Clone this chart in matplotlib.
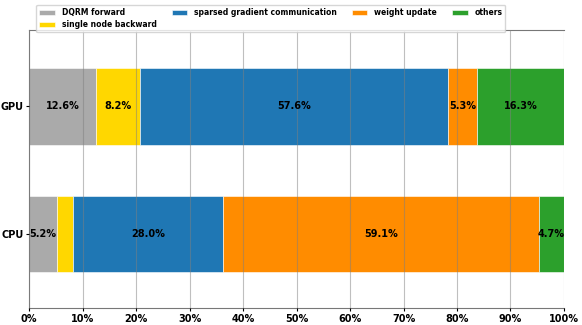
import numpy as np
import matplotlib.pyplot as plt

devices = ['CPU', 'GPU']
stages = ['DQRM forward', 'single node backward', 'sparsed gradient communication',
          'weight update', 'others']
colors = ['#aaaaaa', '#ffd700', '#1f77b4', '#ff8c00', '#2ca02c']

# percentages per stage, order: CPU, GPU
dqrm_forward = [5.2, 12.6]
node_backward = [3.0, 8.2]
grad_comm = [28.0, 57.6]
weight_update = [59.1, 5.3]
others = [4.7, 16.3]
values = [dqrm_forward, node_backward, grad_comm, weight_update, others]

plt.rcParams['font.weight'] = 'bold'
fig = plt.figure(figsize=(5.82, 3.25), dpi=100)
ax = fig.add_axes([0.050, 0.052, 0.919, 0.856])

y = np.arange(len(devices))
left = np.zeros(len(devices))
for name, vals, c in zip(stages, values, colors):
    vals = np.array(vals)
    ax.barh(y, vals, left=left, height=0.6, color=c, label=name,
            edgecolor='white', linewidth=0.4)
    for yi, l, v in zip(y, left, vals):
        if v > 4:
            ax.text(l + v / 2, yi, f'{v:.1f}%', ha='center', va='center',
                    fontsize=7, fontweight='bold', color='black')
    left += vals

ax.set_xlim(0, 100)
ax.set_ylim(-0.58, 1.6)
ax.set_yticks(y)
ax.set_yticklabels(devices, fontsize=7, fontweight='bold')
ax.set_xticks(np.arange(0, 101, 10))
ax.set_xticklabels([f'{t}%' for t in range(0, 101, 10)], fontsize=7, fontweight='bold')
ax.tick_params(axis='x', length=2, pad=2)
ax.tick_params(axis='y', length=2, pad=2)
ax.grid(axis='x', color='gray', alpha=0.5, linewidth=0.8)
ax.set_axisbelow(False)
for s in ['top', 'left', 'bottom']:
    ax.spines[s].set_color('#777777')
ax.spines['right'].set_visible(False)

fig.legend(loc='upper left', bbox_to_anchor=(0.056, 0.997), ncol=4,
           prop={'weight': 'bold', 'size': 5.5}, handlelength=2.0,
           handleheight=0.6, handletextpad=0.9, columnspacing=2.0,
           borderpad=0.4, labelspacing=0.45, framealpha=0.8)

fig.savefig('out.png', dpi=100)
